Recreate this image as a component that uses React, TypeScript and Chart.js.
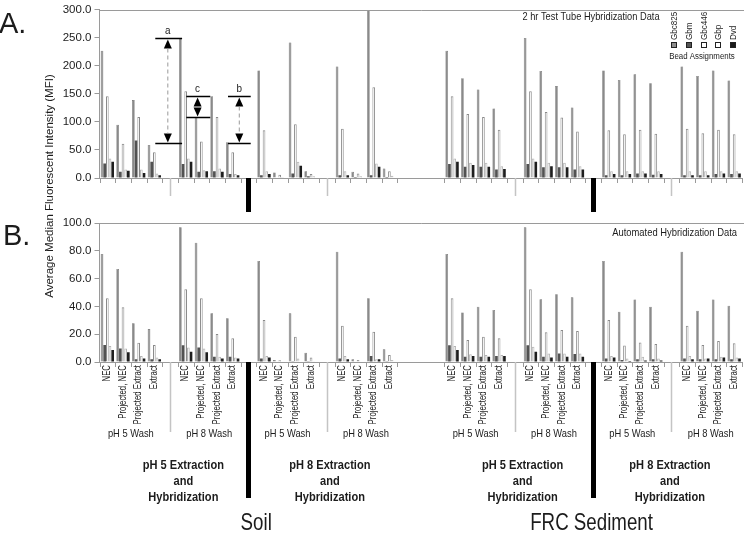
import React, { useEffect, useRef } from "react";
import { Chart, registerables } from "chart.js";

Chart.register(...registerables);

const REG = "'Liberation Sans', Arial, sans-serif";
const AXIS = "#9a9a9a";
const TEXT = "#1c1c1c";

const washCategories = ["NEC", "Projected, NEC", "Projected Extract", "Extract"];
// 41 slots: 8 wash groups with gap slots between them
const categories = [
  ...washCategories, "", ...washCategories, "", ...washCategories, "", ...washCategories, "", "", "",
  ...washCategories, "", ...washCategories, "", ...washCategories, "", ...washCategories,
];
const washGapSlots = [4, 14, 26, 36];
const extractionGapSlots = [9, 31];
const skippedTickBoundaries = [20, 21];

const seriesNames = ["Gbc825", "Gbm", "Gbc446", "Gbp", "Dvd"];
const washLabels = ["pH 5 Wash", "pH 8 Wash", "pH 5 Wash", "pH 8 Wash", "pH 5 Wash", "pH 8 Wash", "pH 5 Wash", "pH 8 Wash"];
const washLabelSlots = [1.5, 6.5, 11.5, 16.5, 23.5, 28.5, 33.5, 38.5];
const extractionLabels = ["pH 5 Extraction", "pH 8 Extraction", "pH 5 Extraction", "pH 8 Extraction"];
const extractionLabelSlots = [4.85, 14.2, 26.5, 35.9];
const sampleLabels = ["Soil", "FRC Sediment"];
const sampleLabelSlots = [9.5, 30.9];

const aTicks = { min: 0, max: 300, step: 50 };
const bTicks = { min: 0, max: 100, step: 20 };

const n = null;
// Panel A: 2 hr Test Tube Hybridization Data
const aGbc825 = [227, 95, 139, 59, n, 249, 108, 146, 64, n, 192, 10, 242, 12, n, 199, 11, 300, 17, n, n, n, 227, 178, 158, 124, n, 250, 191, 164, 126, n, 192, 175, 185, 169, n, 199, 182, 192, 174];
const aGbm = [26, 11, 67, 29, n, 25, 11, 12, 7, n, 5, 1, 8, 3, n, 5, 2, 5, 2, n, n, n, 25, 20, 20, 15, n, 25, 19, 19, 15, n, 5, 5, 8, 6, n, 5, 5, 7, 7];
const aGbc446 = [146, 61, 109, 46, n, 155, 65, 109, 46, n, 85, 6, 96, 7, n, 88, 8, 162, 12, n, n, n, 146, 114, 109, 86, n, 155, 118, 108, 83, n, 85, 78, 86, 79, n, 88, 80, 86, 78];
const aGbp = [35, 15, 15, 8, n, 35, 14, 17, 7, n, 12, 2, 29, 3, n, 12, 3, 26, 4, n, n, n, 35, 27, 27, 21, n, 35, 27, 27, 21, n, 12, 12, 12, 12, n, 12, 12, 12, 12];
const aDvd = [29, 13, 9, 5, n, 29, 12, 11, 5, n, 7, 1, 22, 1, n, 5, 1, 20, 1, n, n, n, 29, 23, 20, 16, n, 29, 21, 19, 15, n, 7, 7, 8, 7, n, 5, 5, 8, 8];

// Panel B: Automated Hybridization Data
const bGbc825 = [77.7, 66.9, 27.8, 23.7, n, 96.9, 85.8, 35, 31.4, n, 72.7, 1.4, 35, 6.7, n, 79.4, 1.9, 45.8, 9.1, n, n, n, 77.7, 35.7, 39.8, 37.4, n, 96.9, 45.1, 48.7, 46.5, n, 72.7, 36.2, 45, 39.8, n, 79.4, 36.9, 45, 40.5];
const bGbm = [12.2, 9.8, 1.9, 2, n, 12, 10.5, 3.8, 3.8, n, 2.6, 0.3, 0.5, 0.5, n, 2.6, 0.3, 4.3, 0.5, n, n, n, 12, 3.8, 3.8, 4.3, n, 12, 3.8, 6.2, 5.8, n, 2.6, 1.4, 1.9, 1.9, n, 2.6, 1.9, 1.9, 1.9];
const bGbc446 = [45.8, 39.3, 13.9, 12.2, n, 52.3, 45.8, 20.1, 17, n, 30.2, 1.2, 18.2, 3.3, n, 26.1, 1.4, 21.8, 5, n, n, n, 45.8, 15.8, 18.2, 17, n, 52.3, 21.4, 23, 22.3, n, 30.2, 11.8, 14.1, 12.9, n, 26.1, 12.2, 15.1, 13.4];
const bGbp = [11.5, 9.8, 4.3, 3.3, n, 10.5, 9.8, 3.8, 3.3, n, 4.3, 0.3, 2.6, 0.5, n, 4.3, 0.3, 2, 1.4, n, n, n, 11.5, 5.5, 5, 5, n, 11, 6.2, 6.2, 6.2, n, 4.3, 2.6, 3.8, 2.6, n, 4.3, 2.6, 3.8, 3.3];
const bDvd = [8.6, 7, 2.6, 2, n, 7.4, 7, 2.6, 2.6, n, 3.3, 0.3, 0.3, 0.3, n, 2, 0.3, 1.9, 0.3, n, n, n, 8.6, 4.3, 3.8, 4.3, n, 7.4, 3.3, 3.8, 3.8, n, 3.3, 0.8, 1, 1, n, 2, 2.6, 3.3, 2.6];

// Annotation arrows in panel A: [label, topValue, bottomValue, fromSlot, toSlot, arrowSlot, dashed]
const annotations: [string, number, number, number, number, number, boolean][] = [
  ["a", 250, 63, 3.06, 4.77, 3.86, true],
  ["c", 146, 108, 5.04, 6.57, 5.76, false],
  ["b", 146, 63, 7.7, 9.15, 8.42, true],
];

const seriesStyle = [
  { bg: "#8a8a8a", border: "#6c6c6c", bw: 0.6 },
  { bg: "#525252", border: "#525252", bw: 0 },
  { bg: "#ffffff", border: "#8a8a8a", bw: 1 },
  { bg: "#f2f2f2", border: "#b4b4b4", bw: 1 },
  { bg: "#1e1e1e", border: "#1e1e1e", bw: 0 },
];
const legendFill = ["#8d8d8d", "#555555", "#ffffff", "#ffffff", "#1a1a1a"];

function slotX(chart: any, f: number) {
  const s = chart.scales.x;
  const p0 = s.getPixelForValue(0);
  const p1 = s.getPixelForValue(1);
  return p0 + f * (p1 - p0);
}

// condensed text (Arial-Narrow look) drawn with a horizontal squeeze
function ctext(
  ctx: CanvasRenderingContext2D,
  text: string,
  x: number,
  y: number,
  size: number,
  o: { sx?: number; bold?: boolean; align?: CanvasTextAlign; base?: CanvasTextBaseline; rot?: boolean } = {}
) {
  ctx.save();
  ctx.translate(x, y);
  if (o.rot) ctx.rotate(-Math.PI / 2);
  ctx.scale(o.sx ?? 0.82, 1);
  ctx.font = `${o.bold ? "bold " : ""}${size}px ${REG}`;
  ctx.textAlign = o.align ?? "center";
  ctx.textBaseline = o.base ?? "middle";
  ctx.fillStyle = TEXT;
  ctx.fillText(text, 0, 0);
  ctx.restore();
}

function drawCommon(chart: any, sepLen: number, blackLen: number) {
  const { ctx, chartArea: ca } = chart;
  ctx.save();
  ctx.strokeStyle = AXIS;
  ctx.lineWidth = 1;
  ctx.beginPath();
  ctx.moveTo(ca.left, Math.round(ca.top) + 0.5);
  ctx.lineTo(chart.width, Math.round(ca.top) + 0.5);
  ctx.stroke();
  // x tick marks at slot boundaries
  ctx.beginPath();
  for (let b = 0; b <= categories.length; b++) {
    if (skippedTickBoundaries.includes(b)) continue;
    const px = Math.round(slotX(chart, b - 0.5)) + 0.5;
    ctx.moveTo(px, ca.bottom);
    ctx.lineTo(px, ca.bottom + 5);
  }
  ctx.stroke();
  // wash separators
  ctx.strokeStyle = "#c4c4c4";
  ctx.lineWidth = 1.5;
  ctx.beginPath();
  washGapSlots.forEach((s) => {
    const px = Math.round(slotX(chart, s)) + 0.5;
    ctx.moveTo(px, ca.bottom);
    ctx.lineTo(px, ca.bottom + sepLen);
  });
  ctx.stroke();
  // extraction separators
  ctx.fillStyle = "#000";
  extractionGapSlots.forEach((s) => {
    const px = slotX(chart, s);
    ctx.fillRect(Math.round(px - 2.5), ca.bottom, 5, blackLen);
  });
  ctx.restore();
}

function tri(ctx: CanvasRenderingContext2D, x: number, tipY: number, dir: number) {
  ctx.beginPath();
  ctx.moveTo(x, tipY);
  ctx.lineTo(x - 4, tipY + dir * 9);
  ctx.lineTo(x + 4, tipY + dir * 9);
  ctx.closePath();
  ctx.fill();
}

const decorA = {
  id: "decorA",
  afterDraw(chart: any) {
    drawCommon(chart, 18, 34);
    const { ctx } = chart;
    const y = chart.scales.y;
    ctx.save();
    annotations.forEach(([label, top, bot, f0, f1, fa, dashed]) => {
      const yt = Math.round(y.getPixelForValue(top)) + 0.5;
      const yb = Math.round(y.getPixelForValue(bot)) + 0.5;
      const x0 = slotX(chart, f0);
      const x1 = slotX(chart, f1);
      const xa = slotX(chart, fa);
      ctx.strokeStyle = "#000";
      ctx.lineWidth = 1.5;
      ctx.beginPath();
      ctx.moveTo(x0, yt);
      ctx.lineTo(x1, yt);
      ctx.moveTo(x0, yb);
      ctx.lineTo(x1, yb);
      ctx.stroke();
      ctx.fillStyle = "#000";
      tri(ctx, xa, yt + 1, 1);
      tri(ctx, xa, yb - 1, -1);
      if (dashed) {
        ctx.strokeStyle = "#999";
        ctx.lineWidth = 1;
        ctx.setLineDash([4, 3]);
        ctx.beginPath();
        ctx.moveTo(xa, yt + 10);
        ctx.lineTo(xa, yb - 10);
        ctx.stroke();
        ctx.setLineDash([]);
      }
      ctext(ctx, label, xa, yt - 8, 11, { sx: 0.9 });
    });
    ctext(ctx, "2 hr Test Tube Hybridization Data", 591, 17, 11.3, { sx: 0.82 });
    const lx = [674, 689, 704, 718, 733];
    seriesNames.forEach((name, i) => {
      ctext(ctx, name, lx[i], 40, 9.8, { rot: true, align: "left", sx: 0.82 });
      ctx.fillStyle = legendFill[i];
      ctx.fillRect(lx[i] - 3, 42, 6, 6);
      ctx.strokeStyle = "#222";
      ctx.lineWidth = 1;
      ctx.strokeRect(lx[i] - 2.5, 42.5, 5, 5);
    });
    ctext(ctx, "Bead Assignments", 702, 56, 9.6, { sx: 0.82 });
    ctx.fillStyle = TEXT;
    ctx.font = `29px ${REG}`;
    ctx.textAlign = "left";
    ctx.textBaseline = "alphabetic";
    ctx.fillText("A.", -1, 33);
    ctx.restore();
  },
};

const decorB = {
  id: "decorB",
  afterDraw(chart: any) {
    drawCommon(chart, 70, 136);
    const { ctx, chartArea: ca } = chart;
    ctx.save();
    // category labels, rotated, ending just below the axis
    categories.forEach((c, i) => {
      if (!c) return;
      ctext(ctx, c, chart.scales.x.getPixelForValue(i), ca.bottom + 3, 10, { rot: true, align: "right", sx: 0.78 });
    });
    ctext(ctx, "Automated Hybridization Data", 737, 233, 11.2, { align: "right", sx: 0.84 });
    washLabels.forEach((t, i) => ctext(ctx, t, slotX(chart, washLabelSlots[i]), 434, 11, { sx: 0.85 }));
    extractionLabels.forEach((t, i) => {
      const x = slotX(chart, extractionLabelSlots[i]);
      ctext(ctx, t, x, 465, 13.5, { bold: true, sx: 0.82 });
      ctext(ctx, "and", x, 481, 13.5, { bold: true, sx: 0.82 });
      ctext(ctx, "Hybridization", x, 497, 13.5, { bold: true, sx: 0.82 });
    });
    sampleLabels.forEach((t, i) => ctext(ctx, t, slotX(chart, sampleLabelSlots[i]), 523, 24, { sx: 0.78 }));
    // y title spanning both panels
    ctext(ctx, "Average Median Fluorescent Intensity (MFI)", 50, 186, 11.5, { rot: true, sx: 1 });
    ctx.fillStyle = TEXT;
    ctx.font = `29px ${REG}`;
    ctx.textAlign = "left";
    ctx.textBaseline = "alphabetic";
    ctx.fillText("B.", 3, 245);
    ctx.restore();
  },
};

function makeConfig(series: (number | null)[][], ticks: any, top: number, bottom: number, plugin: any) {
  return {
    type: "bar" as const,
    data: {
      labels: categories,
      datasets: series.map((d, i) => ({
        label: seriesNames[i],
        data: d,
        backgroundColor: seriesStyle[i].bg,
        borderColor: seriesStyle[i].border,
        borderWidth: seriesStyle[i].bw,
        categoryPercentage: 0.85,
        barPercentage: 1.0,
      })),
    },
    options: {
      responsive: false,
      maintainAspectRatio: false,
      animation: false as const,
      layout: { padding: { left: 0, right: 2, top, bottom: 0 } },
      plugins: { legend: { display: false }, tooltip: { enabled: false }, title: { display: false } },
      scales: {
        x: {
          grid: { display: false, drawTicks: false },
          border: { display: true, color: AXIS, width: 1 },
          ticks: { display: false },
          afterFit: (s: any) => {
            s.height = 537 - bottom;
          },
        },
        y: {
          min: ticks.min,
          max: ticks.max,
          ticks: {
            stepSize: ticks.step,
            padding: 3,
            color: TEXT,
            font: { family: REG, size: 11.5 },
            callback: (v: any) => Number(v).toFixed(1),
          },
          grid: { display: true, drawOnChartArea: false, drawTicks: true, tickLength: 5, color: AXIS },
          border: { display: true, color: AXIS, width: 1 },
          afterFit: (s: any) => {
            s.width = 99.5;
          },
        },
      },
    },
    plugins: [plugin],
  };
}

export default function App() {
  const refA = useRef<HTMLCanvasElement>(null);
  const refB = useRef<HTMLCanvasElement>(null);
  useEffect(() => {
    const a = new Chart(refA.current!, makeConfig([aGbc825, aGbm, aGbc446, aGbp, aDvd], aTicks, 8, 178, decorA) as any);
    const b = new Chart(refB.current!, makeConfig([bGbc825, bGbm, bGbc446, bGbp, bDvd], bTicks, 223, 362, decorB) as any);
    return () => {
      a.destroy();
      b.destroy();
    };
  }, []);
  return (
    <div style={{ position: "fixed", left: 0, top: 0, width: 744, height: 537, background: "#fff" }}>
      <canvas ref={refA} width={744} height={537} style={{ position: "absolute", left: 0, top: 0 }} />
      <canvas ref={refB} width={744} height={537} style={{ position: "absolute", left: 0, top: 0 }} />
    </div>
  );
}
